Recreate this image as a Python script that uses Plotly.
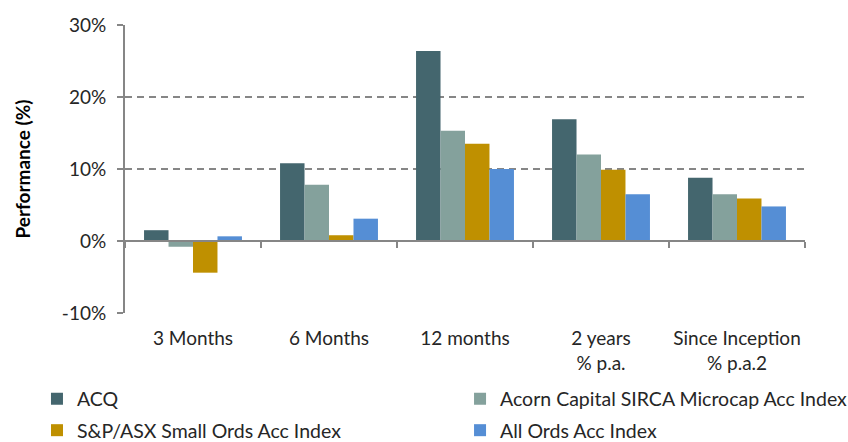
import plotly.graph_objects as go

categories = ["3 Months", "6 Months", "12 months", "2 years<br>% p.a.", "Since Inception<br>% p.a.2"]
acq = [1.5, 10.8, 26.4, 16.9, 8.8]
acorn = [-0.8, 7.8, 15.3, 12.0, 6.5]
small_ords = [-4.4, 0.8, 13.5, 9.9, 5.9]
all_ords = [0.65, 3.1, 10.0, 6.5, 4.8]
series_names = ["ACQ", "Acorn Capital SIRCA Microcap Acc Index", "S&P/ASX Small Ords Acc Index", "All Ords Acc Index"]
colors = ["#44666E", "#84A19C", "#BF9000", "#558ED5"]
y_ticks = [-10, 0, 10, 20, 30]

FONT = "Lato"
TXT = "#262626"
GRAY = "#868686"
FS = 19

x_idx = list(range(len(categories)))
legend_ids = ["legend", "legend2", "legend3", "legend4"]
fig = go.Figure()
for i, (name, vals) in enumerate(zip(series_names, [acq, acorn, small_ords, all_ords])):
    fig.add_trace(go.Bar(
        x=x_idx, y=vals, name=name, marker=dict(color=colors[i], line=dict(width=0)),
        legend=legend_ids[i],
    ))
# invisible trace to carry the label axis
fig.add_trace(go.Scatter(x=x_idx, y=[0]*len(x_idx), xaxis="x2", mode="markers",
                         marker=dict(opacity=0), showlegend=False, hoverinfo="skip"))

def leg(x, y):
    return dict(orientation="h", x=x, xanchor="left", y=y, yanchor="middle", itemwidth=30,
                xref="container", yref="container",
                font=dict(family=FONT, size=19.5, color=TXT), bgcolor="rgba(0,0,0,0)")

col1, col2 = 0.0436, 0.5425
row1, row2 = 0.097, 0.026

fig.update_layout(
    width=848, height=442,
    margin=dict(l=125, r=43, t=25, b=129),
    paper_bgcolor="white", plot_bgcolor="white",
    font=dict(family=FONT, size=FS, color=TXT),
    barmode="group", bargap=0.28, bargroupgap=0,
    xaxis=dict(
        range=[-0.5, 4.5], tickmode="array", tickvals=[v + 0.5 for v in [-1] + x_idx],
        showticklabels=False, ticks="outside", ticklen=6, tickcolor=GRAY, tickwidth=1.5,
        showline=True, linecolor=GRAY, linewidth=2, showgrid=False, zeroline=False,
        anchor="free", position=0.25, automargin=False,
    ),
    xaxis2=dict(
        range=[-0.5, 4.5], overlaying="x", anchor="y", side="bottom",
        tickmode="array", tickvals=x_idx, ticktext=categories,
        showline=False, ticks="", showgrid=False, zeroline=False, automargin=False,
        tickfont=dict(family=FONT, size=FS, color=TXT), ticklabelstandoff=12,
    ),
    yaxis=dict(
        range=[-10, 30], tickmode="array", tickvals=y_ticks, ticktext=[f"{v}%" for v in y_ticks],
        showgrid=True, gridcolor=GRAY, gridwidth=2, griddash="7px,5px",
        showline=True, linecolor=GRAY, linewidth=2, ticks="outside", ticklen=6, tickcolor=GRAY,
        tickwidth=1.5, zeroline=False, ticklabelstandoff=7, automargin=False,
        tickfont=dict(family=FONT, size=FS, color=TXT),
        title=dict(text="<b>Performance (%)</b>", font=dict(family=FONT, size=19, color="#000000"), standoff=26),
    ),
    legend=leg(col1, row1),
    legend2=leg(col2, row1),
    legend3=leg(col1, row2),
    legend4=leg(col2, row2),
)

fig.write_html("out.html", config={"displayModeBar": False},
               post_script="document.body.style.margin='0px';document.body.style.overflow='hidden';")
